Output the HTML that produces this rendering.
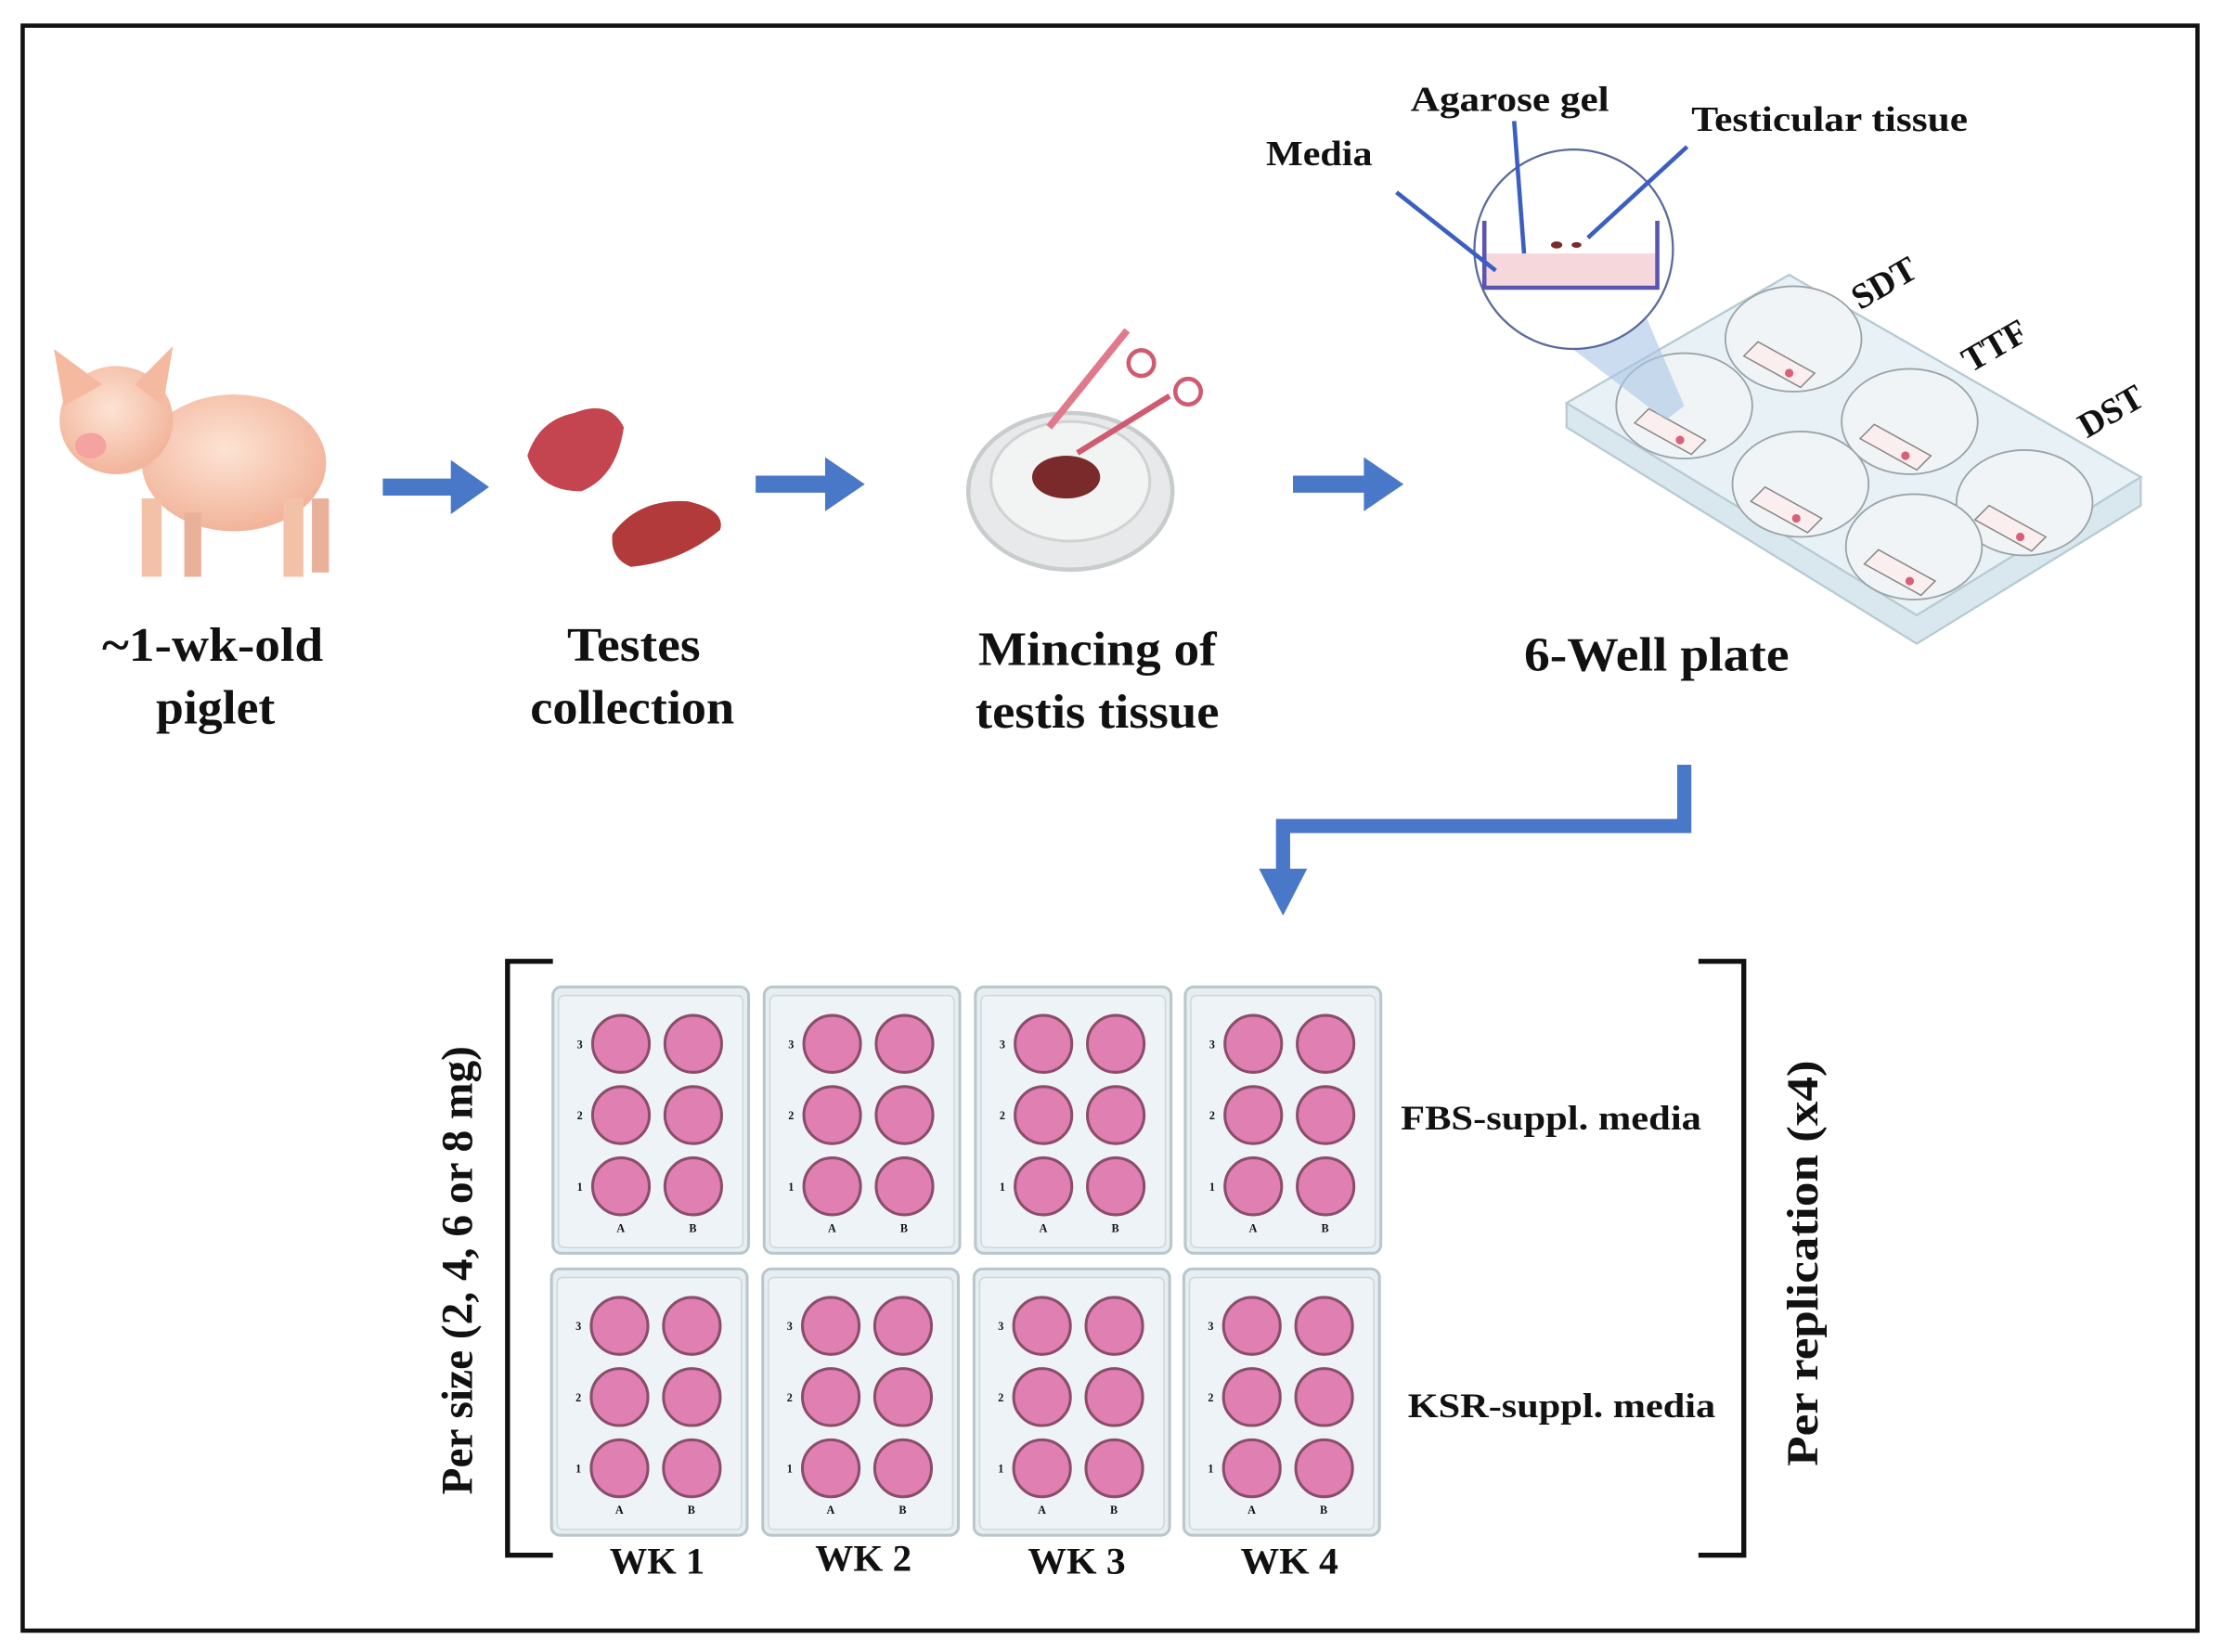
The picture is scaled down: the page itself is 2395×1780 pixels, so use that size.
<!DOCTYPE html>
<html><head><meta charset="utf-8"><style>
html,body{margin:0;padding:0;background:#fff;width:2395px;height:1780px;overflow:hidden}
svg{display:block}
text{font-family:"Liberation Serif",serif;font-weight:bold;fill:#111}
</style></head><body>
<svg width="2395" height="1780" viewBox="0 0 1568 1160" preserveAspectRatio="none" xmlns="http://www.w3.org/2000/svg">
<defs>
<radialGradient id="pig" cx="0.45" cy="0.4" r="0.6"><stop offset="0" stop-color="#fde3d4"/><stop offset="1" stop-color="#f2b49a"/></radialGradient>
<g id="plate">
 <rect x="0" y="0" width="138" height="187" rx="6" fill="#e6eef2" stroke="#b9c6cc" stroke-width="2"/>
 <rect x="4" y="6" width="130" height="177" rx="4" fill="#edf3f6" stroke="#cdd8dd" stroke-width="1"/>
 <g fill="#e07fb2" stroke="#8a4d6a" stroke-width="2">
  <circle cx="48" cy="40" r="20"/><circle cx="99" cy="40" r="20"/>
  <circle cx="48" cy="90" r="20"/><circle cx="99" cy="90" r="20"/>
  <circle cx="48" cy="140" r="20"/><circle cx="99" cy="140" r="20"/>
 </g>
 <g font-size="8" fill="#888" style="font-weight:normal">
  <text x="17" y="43">3</text><text x="17" y="93">2</text><text x="17" y="143">1</text>
  <text x="45" y="172">A</text><text x="96" y="172">B</text>
 </g>
</g>
</defs>
<rect x="16" y="18" width="1534" height="1127" fill="#fff" stroke="#111" stroke-width="3"/>

<!-- pig -->
<g>
 <ellipse cx="165" cy="325" rx="65" ry="48" fill="url(#pig)"/>
 <ellipse cx="82" cy="295" rx="40" ry="38" fill="url(#pig)"/>
 <polygon points="45,285 38,245 72,270" fill="#f5b9a0"/>
 <polygon points="95,270 122,243 115,285" fill="#f5b9a0"/>
 <ellipse cx="64" cy="313" rx="11" ry="9" fill="#f4a3a0"/>
 <rect x="100" y="350" width="14" height="55" fill="#f3c0a8"/>
 <rect x="130" y="360" width="12" height="45" fill="#eab19a"/>
 <rect x="200" y="350" width="14" height="55" fill="#f3c0a8"/>
 <rect x="220" y="350" width="12" height="52" fill="#eab19a"/>
</g>
<!-- arrows -->
<g fill="#4a78c8">
 <polygon points="270,336 318,336 318,323 345,342 318,361 318,348 270,348"/>
 <polygon points="533,334 582,334 582,321 610,340 582,359 582,346 533,346"/>
 <polygon points="912,334 962,334 962,321 990,340 962,359 962,346 912,346"/>
</g>
<!-- testes -->
<path d="M372,320 Q380,295 405,290 Q430,280 440,300 Q435,335 410,345 Q380,345 372,320Z" fill="#c44550"/>
<path d="M432,375 Q450,350 485,352 Q512,358 508,372 Q480,395 445,398 Q430,392 432,375Z" fill="#b23a3a"/>
<!-- petri dish -->
<ellipse cx="755" cy="345" rx="72" ry="55" fill="#e7e9ea" stroke="#c8cccd" stroke-width="3"/>
<ellipse cx="755" cy="338" rx="56" ry="42" fill="#f2f3f3" stroke="#d0d3d4" stroke-width="2"/>
<ellipse cx="752" cy="335" rx="24" ry="15" fill="#7a2a2a"/>
<line x1="740" y1="300" x2="795" y2="232" stroke="#e07a8a" stroke-width="5"/>
<line x1="760" y1="318" x2="825" y2="278" stroke="#d05a70" stroke-width="4"/>
<circle cx="838" cy="275" r="9" fill="none" stroke="#d05a70" stroke-width="3"/>
<circle cx="805" cy="255" r="9" fill="none" stroke="#d05a70" stroke-width="3"/>
<!-- labels -->
<g font-size="34" lengthAdjust="spacingAndGlyphs">
 <text x="72" y="464" textLength="156" lengthAdjust="spacingAndGlyphs">~1-wk-old</text>
 <text x="110" y="508" textLength="84" lengthAdjust="spacingAndGlyphs">piglet</text>
 <text x="400" y="464" textLength="94" lengthAdjust="spacingAndGlyphs">Testes</text>
 <text x="374" y="508" textLength="144" lengthAdjust="spacingAndGlyphs">collection</text>
 <text x="690" y="467" textLength="168" lengthAdjust="spacingAndGlyphs">Mincing of</text>
 <text x="688" y="511" textLength="172" lengthAdjust="spacingAndGlyphs">testis tissue</text>
 <text x="1075" y="471" textLength="187" lengthAdjust="spacingAndGlyphs">6-Well plate</text>
</g>
<!-- well plate -->
<polygon points="1105,283 1262,193 1510,335 1510,355 1352,452 1105,300" fill="#d9e7ee" stroke="#b8cad3" stroke-width="1.5"/>
<polygon points="1105,283 1262,193 1510,335 1352,432" fill="#e8f1f5" stroke="#b8cad3" stroke-width="1.5"/>
<g fill="#f0f4f6" stroke="#9aa5aa" stroke-width="1.2">
 <ellipse cx="1265" cy="238" rx="48" ry="37"/>
 <ellipse cx="1188" cy="285" rx="48" ry="37"/>
 <ellipse cx="1347" cy="296" rx="48" ry="37"/>
 <ellipse cx="1270" cy="340" rx="48" ry="37"/>
 <ellipse cx="1428" cy="353" rx="48" ry="37"/>
 <ellipse cx="1350" cy="384" rx="48" ry="37"/>
</g>
<g fill="#fbeeee" stroke="#888" stroke-width="1">
 <polygon points="1230,250 1240,240 1280,262 1270,272"/>
 <polygon points="1153,297 1163,287 1203,309 1193,319"/>
 <polygon points="1312,308 1322,298 1362,320 1352,330"/>
 <polygon points="1235,352 1245,342 1285,364 1275,374"/>
 <polygon points="1393,365 1403,355 1443,377 1433,387"/>
 <polygon points="1315,396 1325,386 1365,408 1355,418"/>
</g>
<g fill="#d8607a">
 <circle cx="1262" cy="262" r="3"/><circle cx="1185" cy="309" r="3"/><circle cx="1344" cy="320" r="3"/>
 <circle cx="1267" cy="364" r="3"/><circle cx="1425" cy="377" r="3"/><circle cx="1347" cy="408" r="3"/>
</g>
<!-- magnifier -->
<polygon points="1050,200 1160,220 1188,285 1175,295" fill="#a9c4e6" opacity="0.6"/>
<circle cx="1110" cy="175" r="70" fill="#fff" stroke="#5a6b9a" stroke-width="1.5"/>
<rect x="1047" y="178" width="122" height="22" fill="#f6d8dc"/>
<polyline points="1047,155 1047,202 1169,202 1169,155" fill="none" stroke="#5a55b0" stroke-width="3"/>
<ellipse cx="1098" cy="172" rx="4" ry="2.5" fill="#7a2a2a"/><ellipse cx="1112" cy="172" rx="3.5" ry="2" fill="#7a2a2a"/>
<g stroke="#3a5fc0" stroke-width="3">
 <line x1="985" y1="135" x2="1055" y2="190"/>
 <line x1="1068" y1="85" x2="1075" y2="178"/>
 <line x1="1190" y1="103" x2="1120" y2="167"/>
</g>
<g font-size="25">
 <text x="893" y="116" textLength="75" lengthAdjust="spacingAndGlyphs">Media</text>
 <text x="995" y="78" textLength="140" lengthAdjust="spacingAndGlyphs">Agarose gel</text>
 <text x="1193" y="92" textLength="195" lengthAdjust="spacingAndGlyphs">Testicular tissue</text>
</g>
<g font-size="25">
 <text transform="translate(1312,218) rotate(-30)">SDT</text>
 <text transform="translate(1390,262) rotate(-30)">TTF</text>
 <text transform="translate(1472,308) rotate(-30)">DST</text>
</g>
<!-- L arrow -->
<polyline points="1188,537 1188,580 905,580 905,612" fill="none" stroke="#4a78c8" stroke-width="10"/>
<polygon points="888,610 922,610 905,643" fill="#4a78c8"/>
<!-- brackets -->
<polyline points="390,675 358,675 358,1092 390,1092" fill="none" stroke="#111" stroke-width="3.5"/>
<polyline points="1198,675 1230,675 1230,1092 1198,1092" fill="none" stroke="#111" stroke-width="3.5"/>
<!-- plates -->
<use href="#plate" x="390" y="693"/><use href="#plate" x="539" y="693"/><use href="#plate" x="688" y="693"/><use href="#plate" x="836" y="693"/>
<use href="#plate" x="389" y="891"/><use href="#plate" x="538" y="891"/><use href="#plate" x="687" y="891"/><use href="#plate" x="835" y="891"/>
<g font-size="24">
 <text x="988" y="793" textLength="212" lengthAdjust="spacingAndGlyphs">FBS-suppl. media</text>
 <text x="993" y="995" textLength="217" lengthAdjust="spacingAndGlyphs">KSR-suppl. media</text>
</g>
<g font-size="26">
 <text x="430" y="1105" textLength="67" lengthAdjust="spacingAndGlyphs">WK 1</text>
 <text x="575" y="1103" textLength="68" lengthAdjust="spacingAndGlyphs">WK 2</text>
 <text x="725" y="1105" textLength="69" lengthAdjust="spacingAndGlyphs">WK 3</text>
 <text x="875" y="1105" textLength="69" lengthAdjust="spacingAndGlyphs">WK 4</text>
</g>
<text font-size="31" text-anchor="middle" transform="translate(333,892) rotate(-90)" textLength="315" lengthAdjust="spacingAndGlyphs">Per size (2, 4, 6 or 8 mg)</text>
<text font-size="31" text-anchor="middle" transform="translate(1282,887) rotate(-90)" textLength="285" lengthAdjust="spacingAndGlyphs">Per replication (x4)</text>
</svg>
</body></html>
